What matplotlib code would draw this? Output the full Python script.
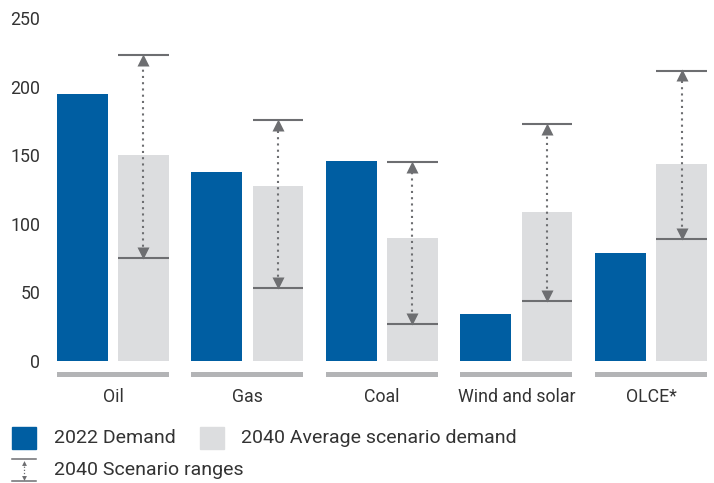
import matplotlib
matplotlib.use("Agg")
import matplotlib.pyplot as plt
from matplotlib.patches import Rectangle
from matplotlib.lines import Line2D
import numpy as np

# values
categories = ["Oil", "Gas", "Coal", "Wind and solar", "OLCE*"]
demand_2022 = [195, 138, 146, 34, 79]
avg_2040 = [150, 128, 90, 109, 144]
range_low = [75, 53, 27, 44, 89]
range_high = [223, 176, 145, 173, 212]
yticks = [0, 50, 100, 150, 200, 250]

BLUE = "#005ea2"
LIGHT = "#dcdddf"
RANGE = "#6d6e71"
BASE = "#b3b4b6"
TEXT = "#333333"

plt.rcParams["font.family"] = ["Roboto", "DejaVu Sans"]

fig = plt.figure(figsize=(7.14, 4.83), dpi=100)
W, H = 714, 483
# axes: data x from px 57 to 708, y=0 at px 361, y=250 at px 18.5
ax = fig.add_axes([57 / W, (H - 380) / H, (708 - 57) / W, (380 - 18.5) / H])

x = np.arange(len(categories))
bw = 0.379
off = 0.227
ax.bar(x - off, demand_2022, width=bw, color=BLUE, zorder=2)
ax.bar(x + off, avg_2040, width=bw, color=LIGHT, zorder=2)

# grey base strip under each group
ax.bar(x, 3.6, bottom=-11.6, width=2 * off + bw, color=BASE, zorder=2)

# scenario ranges
for xi, lo, hi in zip(x + off, range_low, range_high):
    ax.hlines([lo, hi], xi - bw / 2, xi + bw / 2, color=RANGE, lw=1.5, zorder=3)
    ax.vlines(xi, lo + 4, hi - 4, color=RANGE, lw=1.5, linestyles=(0, (1, 2)), zorder=3)
    ax.plot(xi, hi - 3.6, marker="^", ms=8, color=RANGE, mec="none", zorder=4)
    ax.plot(xi, lo + 3.6, marker="v", ms=8, color=RANGE, mec="none", zorder=4)

ax.set_xlim(-0.416, len(categories) - 1 + 0.424)
ax.set_ylim(-14, 250)
ax.set_yticks(yticks)
ax.set_xticks(x)
ax.set_xticklabels(categories)
ax.tick_params(axis="both", length=0, labelsize=12.8, colors=TEXT)
ax.tick_params(axis="x", pad=6)
ax.tick_params(axis="y", pad=12)
for s in ax.spines.values():
    s.set_visible(False)

# legend drawn by hand
def fig_rect(x0, y0, w, h, color):
    fig.patches.append(Rectangle((x0 / W, 1 - (y0 + h) / H), w / W, h / H,
                                 transform=fig.transFigure, color=color))

fig_rect(12, 427, 24, 22, BLUE)
fig.text(54 / W, 1 - 438 / H, "2022 Demand", fontsize=14, color=TEXT, va="center")
fig_rect(200, 427, 24, 22, LIGHT)
fig.text(241 / W, 1 - 438 / H, "2040 Average scenario demand", fontsize=14, color=TEXT, va="center")

# range icon
for yy in (459, 481):
    fig.add_artist(Line2D([12 / W, 36 / W], [1 - yy / H, 1 - yy / H], color=RANGE, lw=1.1))
fig.add_artist(Line2D([24 / W, 24 / W], [1 - 463 / H, 1 - 477 / H], color=RANGE, lw=0.9,
                      linestyle=(0, (1, 1.5))))
fig.add_artist(Line2D([24 / W], [1 - 462.5 / H], marker="^", ms=3.5, color=RANGE, mec="none"))
fig.add_artist(Line2D([24 / W], [1 - 477.5 / H], marker="v", ms=3.5, color=RANGE, mec="none"))
fig.text(54 / W, 1 - 470 / H, "2040 Scenario ranges", fontsize=14, color=TEXT, va="center")

fig.savefig("out.png", dpi=100)
